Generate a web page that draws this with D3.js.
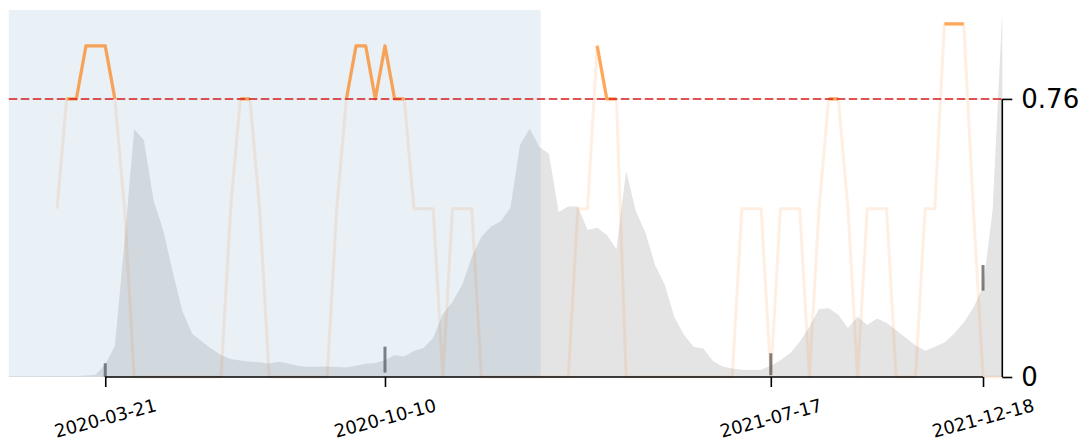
<!DOCTYPE html>
<html><head><meta charset="utf-8">
<script src="https://cdn.jsdelivr.net/npm/d3@7"></script>
<style>
body{margin:0;background:#fff}
svg{display:block}
text{font-family:"DejaVu Sans",sans-serif;fill:#000}
</style>
</head><body>
<svg id="c" width="1085" height="442"></svg>
<script>
// ---- data ----
const areaStart = "2020-01-11";           // weekly series start (Saturdays)
const areaValues = [
  0.002,0.002,0.002,0.002,0.003,0.003,0.003,0.003,0.004,0.006,
  0.035,0.085,0.372,0.677,0.648,0.484,0.402,0.287,0.18,0.118,
  0.098,0.077,0.06,0.049,0.045,0.042,0.04,0.037,0.042,0.037,
  0.03,0.028,0.028,0.029,0.027,0.026,0.031,0.036,0.038,0.046,
  0.06,0.056,0.071,0.079,0.107,0.172,0.205,0.252,0.328,0.383,
  0.411,0.426,0.462,0.634,0.679,0.629,0.61,0.451,0.466,0.466,
  0.402,0.408,0.388,0.35,0.564,0.454,0.395,0.306,0.253,0.164,
  0.115,0.083,0.078,0.044,0.029,0.023,0.02,0.019,0.02,0.031,
  0.046,0.065,0.096,0.137,0.186,0.188,0.17,0.134,0.165,0.142,
  0.16,0.148,0.128,0.107,0.087,0.072,0.083,0.094,0.118,0.149,
  0.189,0.246,0.457,1.0
];
const scoreStart = "2020-02-15";
const scoreValues = [
  0.46,0.76,0.76,0.905,0.905,0.905,0.76,0.46,0,0,
  0,0,0,0,0,0,0,0,0.46,0.76,
  0.76,0.46,0,0,0,0,0,0,0,0.46,
  0.76,0.905,0.905,0.76,0.905,0.76,0.76,0.46,0.46,0.46,
  0,0.46,0.46,0.46,0,0,0,0,0,0,
  0,0,0,0,0.46,0.46,0.905,0.76,0.76,0,
  0,0,0,0,0,0,0,0,0,0,
  0,0.46,0.46,0.46,0,0.46,0.46,0.46,0,0.46,
  0.76,0.76,0.46,0,0.46,0.46,0.46,0,0,0,
  0.46,0.46,0.965,0.965,0.965,0.46,0,0,0
];
const threshold = 0.76;
const shadeRange = ["2020-01-11", "2021-01-31"];
const domainRange = ["2020-01-11", "2022-01-01"];
const tickDates = ["2020-03-21", "2020-10-10", "2021-07-17", "2021-12-18"];
const markerLow  = [0, 0.012, 0.005, 0.236];
const markerHigh = [0.0375, 0.083, 0.065, 0.306];
const yTicks = [0, 0.76];
const yTickLabels = ["0", "0.76"];

// ---- chart ----
const parse = d3.utcParse("%Y-%m-%d");
const weekly = (start, n) => d3.range(n).map(i => d3.utcDay.offset(parse(start), 7 * i));
const areaData = weekly(areaStart, areaValues.length).map((d, i) => ({d, v: areaValues[i]}));
const scoreData = weekly(scoreStart, scoreValues.length).map((d, i) => ({d, v: scoreValues[i]}));

const svg = d3.select("#c");
const x = d3.scaleUtc().domain(domainRange.map(parse)).range([8.8, 1002.3]);
const y = d3.scaleLinear().domain([0, 1.003]).range([377, 10]);

// area
svg.append("path").datum(areaData)
  .attr("d", d3.area().x(p => x(p.d)).y0(y(0)).y1(p => y(p.v)))
  .attr("fill", "#e4e4e4");

// faint full line
svg.append("path").datum(scoreData)
  .attr("d", d3.line().x(p => x(p.d)).y(p => y(p.v)))
  .attr("fill", "none").attr("stroke", "#ff7f0e").attr("stroke-opacity", 0.12)
  .attr("stroke-width", 3).attr("stroke-linejoin", "round");

// markers
svg.selectAll("line.mk").data(tickDates).enter().append("line")
  .attr("x1", d => x(parse(d))).attr("x2", d => x(parse(d)))
  .attr("y1", (d, i) => y(markerLow[i])).attr("y2", (d, i) => y(markerHigh[i]))
  .attr("stroke", "#555").attr("stroke-opacity", 0.75).attr("stroke-width", 3);

// shaded period
svg.append("rect")
  .attr("x", x(parse(shadeRange[0]))).attr("y", y.range()[1])
  .attr("width", x(parse(shadeRange[1])) - x(parse(shadeRange[0])))
  .attr("height", y.range()[0] - y.range()[1])
  .attr("fill", "#4682b4").attr("fill-opacity", 0.12);

// strong line above threshold
svg.append("path").datum(scoreData)
  .attr("d", d3.line().defined(p => p.v >= threshold - 1e-9).x(p => x(p.d)).y(p => y(p.v)))
  .attr("fill", "none").attr("stroke", "#ff7f0e").attr("stroke-opacity", 0.65)
  .attr("stroke-width", 3.2).attr("stroke-linejoin", "round");

// threshold line
svg.append("line")
  .attr("x1", x.range()[0]).attr("x2", x.range()[1])
  .attr("y1", y(threshold)).attr("y2", y(threshold))
  .attr("stroke", "#d62728").attr("stroke-opacity", 0.8)
  .attr("stroke-width", 2).attr("stroke-dasharray", "8.5,3.5");

// bottom axis
const tDates = tickDates.map(parse);
const gx = svg.append("g").attr("transform", `translate(0,${y(0)})`)
  .call(d3.axisBottom(x).tickValues(tDates).tickSize(10).tickSizeOuter(0).tickFormat(""));
gx.select(".domain").remove();
gx.selectAll(".tick line").attr("stroke", "#000").attr("stroke-width", 1.6);
gx.append("line").attr("x1", x(tDates[0])).attr("x2", x(tDates[tDates.length - 1]))
  .attr("stroke", "#000").attr("stroke-width", 1.6);
svg.selectAll("text.xl").data(tickDates).enter().append("text")
  .attr("class", "xl")
  .attr("transform", d => `translate(${x(parse(d))},${y(0) + 41}) rotate(-15)`)
  .attr("text-anchor", "middle").attr("dominant-baseline", "central")
  .style("font-size", "18px").text(d => d);

// right axis
const gy = svg.append("g").attr("transform", `translate(${x.range()[1]},0)`)
  .call(d3.axisRight(y).tickValues(yTicks).tickSize(10).tickSizeOuter(0).tickFormat(""));
gy.select(".domain").remove();
gy.selectAll(".tick line").attr("stroke", "#000").attr("stroke-width", 1.6);
gy.append("line").attr("y1", y(yTicks[yTicks.length - 1])).attr("y2", y(yTicks[0]))
  .attr("stroke", "#000").attr("stroke-width", 1.6);
svg.selectAll("text.yl").data(yTicks).enter().append("text")
  .attr("class", "yl")
  .attr("x", x.range()[1] + 19).attr("y", d => y(d))
  .attr("dominant-baseline", "central")
  .style("font-size", "26px").text((d, i) => yTickLabels[i]);
</script>
</body></html>
